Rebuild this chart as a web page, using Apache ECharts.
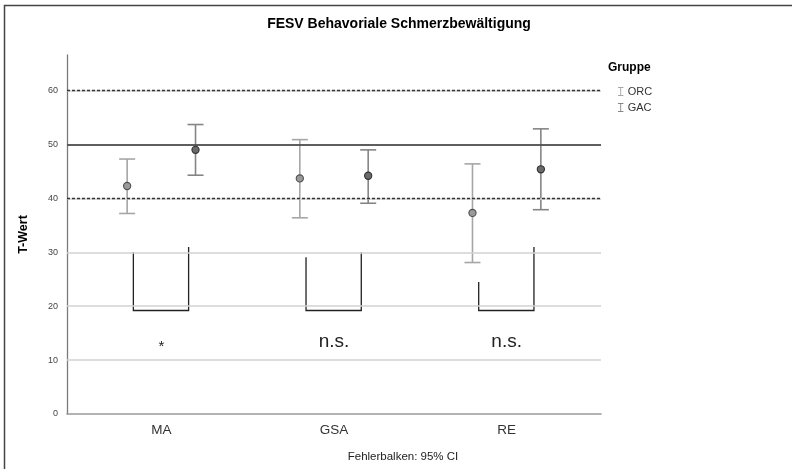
<!DOCTYPE html>
<html>
<head>
<meta charset="utf-8">
<script src="https://cdn.jsdelivr.net/npm/echarts@6/dist/echarts.min.js"></script>
<style>html,body{margin:0;padding:0;background:#fff}#c{width:792px;height:469px}</style>
</head>
<body>
<div id="c"></div>
<script>
// ---- data ----
const categories = ['MA', 'GSA', 'RE'];
const groups = ['ORC', 'GAC'];
const orcMean = [42.3, 43.7, 37.3];
const orcLow  = [37.2, 36.4, 28.1];
const orcHigh = [47.3, 50.9, 46.4];
const gacMean = [49.0, 44.2, 45.4];
const gacLow  = [44.3, 39.1, 37.9];
const gacHigh = [53.7, 49.0, 52.9];
const bracketLeftTop  = [30.0, 29.1, 24.5];
const bracketRightTop = [31.0, 30.0, 31.0];
const bracketBottom   = [19.2, 19.2, 19.2];
const sigLabels = ['*', 'n.s.', 'n.s.'];
const sigLabelY = [12.4, 13.4, 13.4];
const dashedRefs = [60, 40];
const solidRefs = [50];
const gridValues = [10, 20, 30];
const yTicks = [0, 10, 20, 30, 40, 50, 60];

const FONT = 'Arial, "Liberation Sans", sans-serif';
const yMax = 66.6;

const chart = echarts.init(document.getElementById('c'), null, {renderer: 'canvas'});

function errData(lo, mean, hi) {
  return categories.map((c, i) => [i, lo[i], mean[i], hi[i]]);
}
function makeErrRender(side, barColor, fill, stroke) {
  return function (params, api) {
    const cat = api.value(0);
    const band = api.size([1, 0])[0];
    const off = side * 0.198 * band;
    const pm = api.coord([cat, api.value(2)]);
    const pl = api.coord([cat, api.value(1)]);
    const ph = api.coord([cat, api.value(3)]);
    const x = pm[0] + off;
    const cap = 8;
    const ls = {stroke: barColor, lineWidth: 1.6};
    return {
      type: 'group',
      children: [
        {type: 'line', shape: {x1: x, y1: pl[1], x2: x, y2: ph[1]}, style: ls},
        {type: 'line', shape: {x1: x - cap, y1: pl[1], x2: x + cap, y2: pl[1]}, style: ls},
        {type: 'line', shape: {x1: x - cap, y1: ph[1], x2: x + cap, y2: ph[1]}, style: ls},
        {type: 'circle', shape: {cx: x, cy: pm[1], r: 3.6}, style: {fill: fill, stroke: stroke, lineWidth: 1.1}}
      ]
    };
  };
}

const option = {
  animation: false,
  backgroundColor: '#fff',
  grid: [
    {left: 67, right: 191, top: 55, bottom: 55},
    {left: 75, right: 199, top: 55, bottom: 55}
  ],
  xAxis: [
    {type: 'value', gridIndex: 0, min: 0, max: 1, show: true,
     axisLine: {show: true, lineStyle: {color: '#9a9a9a', width: 1.6}},
     axisTick: {show: false}, axisLabel: {show: false}, splitLine: {show: false}},
    {type: 'category', gridIndex: 1, data: categories, boundaryGap: true,
     axisLine: {show: false}, axisTick: {show: false}, splitLine: {show: false},
     axisLabel: {fontFamily: FONT, fontSize: 13.5, color: '#333', margin: 9}}
  ],
  yAxis: [
    {type: 'value', gridIndex: 0, min: 0, max: yMax, interval: 10,
     name: 'T-Wert', nameLocation: 'middle', nameGap: 37, nameRotate: 90,
     nameTextStyle: {fontFamily: FONT, fontSize: 12.5, fontWeight: 'bold', color: '#000'},
     axisLine: {show: true, lineStyle: {color: '#7a7a7a', width: 1.3}},
     axisTick: {show: false}, splitLine: {show: false},
     axisLabel: {fontFamily: FONT, fontSize: 9, color: '#444', margin: 9, showMaxLabel: false,
       formatter: v => (yTicks.indexOf(v) >= 0 ? String(v) : '')}},
    {type: 'value', gridIndex: 1, min: 0, max: yMax, show: false}
  ],
  legend: {
    orient: 'vertical', left: 613, top: 81, itemWidth: 6, itemHeight: 9, itemGap: 5,
    data: groups,
    icon: 'path://M0,0H6V1H3.5V9H6V10H0V9H2.5V1H0Z',
    textStyle: {fontFamily: FONT, fontSize: 11, color: '#333', padding: [0, 0, 0, -1]},
    selectedMode: false
  },
  graphic: [
    {type: 'rect', shape: {x: 4.5, y: 5.5, width: 900, height: 600},
     style: {fill: 'none', stroke: '#444', lineWidth: 1.5}, silent: true},
    {type: 'text', x: 399, y: 24, style: {text: 'FESV Behavoriale Schmerzbewältigung',
      font: 'bold 14px ' + FONT, fill: '#000', textAlign: 'center', textVerticalAlign: 'middle'}},
    {type: 'text', x: 608, y: 68, style: {text: 'Gruppe',
      font: 'bold 12px ' + FONT, fill: '#000', textAlign: 'left', textVerticalAlign: 'middle'}},
    {type: 'text', x: 403, y: 457, style: {text: 'Fehlerbalken: 95% CI',
      font: '11.5px ' + FONT, fill: '#222', textAlign: 'center', textVerticalAlign: 'middle'}}
  ],
  series: [
    {type: 'line', xAxisIndex: 0, yAxisIndex: 0, data: [], silent: true,
     markLine: {symbol: 'none', silent: true, label: {show: false},
       lineStyle: {color: '#d2d2d2', width: 1.6, type: 'solid'},
       data: gridValues.concat(dashedRefs, solidRefs).map(v => ({yAxis: v}))}},
    {type: 'line', xAxisIndex: 0, yAxisIndex: 0, data: [], silent: true,
     markLine: {symbol: 'none', silent: true, label: {show: false},
       data: dashedRefs.map(v => ({yAxis: v, lineStyle: {color: '#333', width: 1.3, type: [3, 2]}}))
         .concat(solidRefs.map(v => ({yAxis: v, lineStyle: {color: '#333', width: 1.6, type: 'solid'}})))}},
    {type: 'custom', name: 'ORC', xAxisIndex: 1, yAxisIndex: 1,
     itemStyle: {color: '#a6a6a6'},
     data: errData(orcLow, orcMean, orcHigh), encode: {x: 0, y: [1, 2, 3]},
     renderItem: makeErrRender(-1, '#a6a6a6', '#9a9a9a', '#505050')},
    {type: 'custom', name: 'GAC', xAxisIndex: 1, yAxisIndex: 1,
     itemStyle: {color: '#858585'},
     data: errData(gacLow, gacMean, gacHigh), encode: {x: 0, y: [1, 2, 3]},
     renderItem: makeErrRender(1, '#858585', '#6a6a6a', '#303030')},
    {type: 'custom', name: 'brackets', xAxisIndex: 1, yAxisIndex: 1, silent: true,
     data: categories.map((c, i) => [i, bracketLeftTop[i], bracketRightTop[i], bracketBottom[i]]),
     encode: {x: 0, y: [1, 2, 3]},
     renderItem: function (params, api) {
       const cat = api.value(0);
       const band = api.size([1, 0])[0];
       const c = api.coord([cat, api.value(3)]);
       const xl = c[0] - 0.162 * band, xr = c[0] + 0.158 * band;
       const yl = api.coord([cat, api.value(1)])[1];
       const yr = api.coord([cat, api.value(2)])[1];
       return {type: 'polyline', shape: {points: [[xl, yl], [xl, c[1]], [xr, c[1]], [xr, yr]]},
         style: {stroke: '#222', lineWidth: 1.3, fill: 'none'}};
     }},
    {type: 'custom', name: 'sig', xAxisIndex: 1, yAxisIndex: 1, silent: true,
     data: categories.map((c, i) => [i, sigLabelY[i], sigLabels[i]]),
     encode: {x: 0, y: 1},
     renderItem: function (params, api) {
       const i = params.dataIndex;
       const p = api.coord([api.value(0), api.value(1)]);
       const star = sigLabels[i] === '*';
       return {type: 'text', x: p[0], y: p[1],
         style: {text: sigLabels[i], font: (star ? '15px ' : '19px ') + FONT, fill: '#222',
           textAlign: 'center', textVerticalAlign: 'middle'}};
     }}
  ]
};
chart.setOption(option);
</script>
</body>
</html>
